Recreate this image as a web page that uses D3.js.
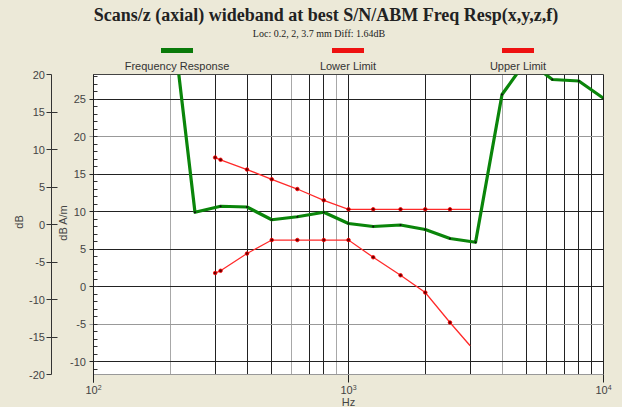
<!DOCTYPE html>
<html>
<head>
<meta charset="utf-8">
<script src="https://cdn.jsdelivr.net/npm/d3@7"></script>
<style>
  body { margin: 0; background: #ece9d8; }
  svg { display: block; }
</style>
</head>
<body>
<div id="chart"></div>
<script>
// frequency response, 1/3 octave (Hz) and level in dB A/m
var respFreq = [200, 250, 315, 400, 500, 630, 800, 1000, 1250, 1600, 2000, 2500, 3150, 4000, 5000, 6300, 8000, 10000];
var respVal  = [38, 9.9, 10.7, 10.6, 8.9, 9.3, 9.9, 8.4, 8.0, 8.2, 7.6, 6.4, 5.9, 25.6, 30.2, 27.6, 27.4, 25.1];

// limit lines
var limFreq  = [300, 315, 400, 500, 630, 800, 1000, 1250, 1600, 2000, 2500, 3000];
var upperVal = [17.2, 16.9, 15.6, 14.3, 13.0, 11.5, 10.3, 10.3, 10.3, 10.3, 10.3, 10.3];
var lowerVal = [1.8, 2.1, 4.4, 6.2, 6.2, 6.2, 6.2, 3.9, 1.5, -0.8, -4.8, -7.9];

// axes
var dbTicks   = [20, 15, 10, 5, 0, -5, -10, -15, -20];
var dbamTicks = [25, 20, 15, 10, 5, 0, -5, -10];
var decades   = [100, 1000, 10000];
var decadeExp = ["2", "3", "4"];
var legendNames = ["Frequency Response", "Lower Limit", "Upper Limit"];

var W = 622, H = 407;
var pL = 93.5, pR = 603.5, pT = 74.5, pB = 374.5;

var svg = d3.select("#chart").append("svg")
    .attr("width", W)
    .attr("height", H);

svg.append("rect").attr("width", W).attr("height", H).attr("fill", "#ece9d8");

var x = d3.scaleLog().domain([100, 10000]).range([pL, pR]);
// dB A/m scale (inner) and dB scale (outer)
var y = d3.scaleLinear().domain([28.27, -11.73]).range([pT, pB]);
var yDb = d3.scaleLinear().domain([20, -20]).range([pT, pB]);

function px(v) { return Math.round(v - 0.5) + 0.5; }

// plot background
svg.append("rect")
    .attr("x", pL).attr("y", pT)
    .attr("width", pR - pL).attr("height", pB - pT)
    .attr("fill", "#fff");

// vertical grid
var lightV = [200, 600, 900, 4000];
var gridF = [];
for (var d = 100; d < 10000; d *= 10) {
  for (var m = 1; m < 10; m++) gridF.push(d * m);
}
gridF.push(10000);

svg.append("g").selectAll("line")
    .data(gridF)
    .enter().append("line")
    .attr("x1", function (f) { return px(x(f)); })
    .attr("x2", function (f) { return px(x(f)); })
    .attr("y1", pT)
    .attr("y2", function (f) { return decades.indexOf(f) >= 0 ? pB + 8 : pB; })
    .attr("stroke", function (f) { return lightV.indexOf(f) >= 0 ? "#a8a8a8" : "#222"; })
    .attr("stroke-width", 1);

// horizontal grid (dB A/m)
var lightH = [20, -5];
svg.append("g").selectAll("line")
    .data(dbamTicks)
    .enter().append("line")
    .attr("x1", pL - 4)
    .attr("x2", pR)
    .attr("y1", function (v) { return px(y(v)); })
    .attr("y2", function (v) { return px(y(v)); })
    .attr("stroke", function (v) { return lightH.indexOf(v) >= 0 ? "#999" : "#222"; })
    .attr("stroke-width", 1);

// minor ticks on the inner axis
svg.append("g").selectAll("line")
    .data(d3.range(-11, 29))
    .enter().append("line")
    .attr("x1", pL)
    .attr("x2", pL + 4)
    .attr("y1", function (v) { return px(y(v)); })
    .attr("y2", function (v) { return px(y(v)); })
    .attr("stroke", "#333");

// frame
svg.append("line").attr("x1", pL).attr("x2", pR).attr("y1", pT).attr("y2", pT).attr("stroke", "#444");
svg.append("line").attr("x1", pL).attr("x2", pR).attr("y1", pB).attr("y2", pB).attr("stroke", "#999");
svg.append("line").attr("x1", pL).attr("x2", pL).attr("y1", pT).attr("y2", pB + 8).attr("stroke", "#222");

// inner axis labels
svg.append("g").selectAll("text")
    .data(dbamTicks)
    .enter().append("text")
    .attr("x", 86)
    .attr("y", function (v) { return y(v) + 4; })
    .attr("text-anchor", "end")
    .style("font-family", "Liberation Sans, Arial")
    .style("font-size", "11px")
    .style("fill", "#444")
    .text(function (v) { return v; });

// outer dB axis
var axisX = 51.5;
svg.append("line")
    .attr("x1", axisX).attr("x2", axisX)
    .attr("y1", yDb(20)).attr("y2", yDb(-20))
    .attr("stroke", "#333");

svg.append("g").selectAll("line")
    .data(dbTicks)
    .enter().append("line")
    .attr("x1", axisX - 5)
    .attr("x2", function (v) { return Math.abs(v) == 20 ? axisX : axisX + 6; })
    .attr("y1", function (v) { return px(yDb(v)); })
    .attr("y2", function (v) { return px(yDb(v)); })
    .attr("stroke", "#333");

svg.append("g").selectAll("text")
    .data(dbTicks)
    .enter().append("text")
    .attr("x", 45)
    .attr("y", function (v) { return yDb(v) + 4; })
    .attr("text-anchor", "end")
    .style("font-family", "Liberation Sans, Arial")
    .style("font-size", "11px")
    .style("fill", "#444")
    .text(function (v) { return v; });

svg.append("text")
    .attr("transform", "translate(23,222) rotate(-90)")
    .attr("text-anchor", "middle")
    .style("font-family", "Liberation Sans, Arial")
    .style("font-size", "11px")
    .style("fill", "#444")
    .text("dB");

svg.append("text")
    .attr("transform", "translate(67,223) rotate(-90)")
    .attr("text-anchor", "middle")
    .style("font-family", "Liberation Sans, Arial")
    .style("font-size", "11px")
    .style("fill", "#444")
    .text("dB A/m");

// x axis labels
var xl = svg.append("g").selectAll("text")
    .data(decades)
    .enter().append("text")
    .attr("x", function (f) { return x(f); })
    .attr("y", 394)
    .attr("text-anchor", "middle")
    .style("font-family", "Liberation Sans, Arial")
    .style("font-size", "11px")
    .style("fill", "#444");
xl.append("tspan").text("10");
xl.append("tspan")
    .attr("dy", -4)
    .style("font-size", "7px")
    .text(function (f, i) { return decadeExp[i]; });

svg.append("text")
    .attr("x", x(1000))
    .attr("y", 406)
    .attr("text-anchor", "middle")
    .style("font-family", "Liberation Sans, Arial")
    .style("font-size", "11px")
    .style("fill", "#444")
    .text("Hz");

// clip
svg.append("clipPath").attr("id", "plotclip")
  .append("rect")
    .attr("x", pL).attr("y", pT)
    .attr("width", pR - pL).attr("height", pB - pT);

var plot = svg.append("g").attr("clip-path", "url(#plotclip)");

var line = d3.line()
    .x(function (d) { return x(d[0]); })
    .y(function (d) { return y(d[1]); });

function drawLimit(vals) {
  var pts = limFreq.map(function (f, i) { return [f, vals[i]]; });
  plot.append("path")
      .datum(pts)
      .attr("d", line)
      .attr("fill", "none")
      .attr("stroke", "#ff2a2a")
      .attr("stroke-width", 1.3);
  plot.append("g").selectAll("circle")
      .data(pts.slice(0, pts.length - 1))
      .enter().append("circle")
      .attr("cx", function (d) { return x(d[0]); })
      .attr("cy", function (d) { return y(d[1]); })
      .attr("r", 1.8)
      .attr("fill", "#600")
      .attr("stroke", "#f00")
      .attr("stroke-width", 0.8);
}
drawLimit(upperVal);
drawLimit(lowerVal);

var resp = respFreq.map(function (f, i) { return [f, respVal[i]]; });
plot.append("path")
    .datum(resp)
    .attr("d", line)
    .attr("fill", "none")
    .attr("stroke", "#0a850a")
    .attr("stroke-width", 3.2)
    .attr("stroke-linejoin", "round");
plot.append("g").selectAll("circle")
    .data(resp)
    .enter().append("circle")
    .attr("cx", function (d) { return x(d[0]); })
    .attr("cy", function (d) { return y(d[1]); })
    .attr("r", 1.1)
    .attr("fill", "#111");

// title
svg.append("text")
    .attr("x", 326)
    .attr("y", 21)
    .attr("text-anchor", "middle")
    .style("font-family", "Liberation Serif, Times New Roman")
    .style("font-size", "18px")
    .style("font-weight", "bold")
    .style("fill", "#222")
    .text("Scans/z (axial) wideband at best S/N/ABM Freq Resp(x,y,z,f)");

svg.append("text")
    .attr("x", 319)
    .attr("y", 37)
    .attr("text-anchor", "middle")
    .style("font-family", "Liberation Serif, Times New Roman")
    .style("font-size", "10px")
    .style("fill", "#222")
    .text("Loc: 0.2, 2, 3.7 mm Diff: 1.64dB");

// legend
var legendColor = ["#0a7a0a", "#ee1111", "#ee1111"];
var legendX = [177, 348, 518];
var lg = svg.append("g").selectAll("g")
    .data(legendNames)
    .enter().append("g")
    .attr("transform", function (d, i) { return "translate(" + legendX[i] + ",0)"; });
lg.append("rect")
    .attr("x", -16).attr("y", 48)
    .attr("width", 32).attr("height", 5)
    .attr("fill", function (d, i) { return legendColor[i]; });
lg.append("text")
    .attr("y", 70)
    .attr("text-anchor", "middle")
    .style("font-family", "Liberation Sans, Arial")
    .style("font-size", "11px")
    .style("fill", "#333")
    .text(function (d) { return d; });
</script>
</body>
</html>
